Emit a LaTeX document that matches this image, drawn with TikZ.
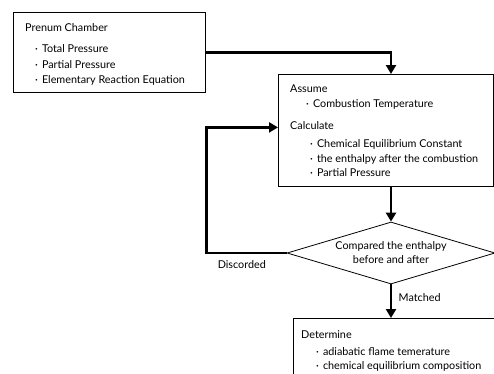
\documentclass[tikz,border=0pt]{standalone}
\usepackage{fontspec}
\setmainfont{Lato}
\usetikzlibrary{arrows.meta,shapes.geometric}

\newcommand{\itemdot}[1]{\hspace*{#1pt}\textperiodcentered\hspace{4pt}}

\tikzset{
  box/.style={draw, line width=0.8pt, anchor=north west},
  txt/.style={anchor=north west, inner sep=0pt, align=left, font=\fontsize{10.8}{15.5}\selectfont},
  flow/.style={line width=2.6pt, -{Triangle[width=10pt,length=9pt]}},
  decide/.style={draw, diamond, line width=0.8pt, aspect=3.3, inner sep=0pt,
    minimum width=208pt, minimum height=62pt, align=center, font=\fontsize{10.8}{14}\selectfont},
  lbl/.style={font=\fontsize{10.8}{12}\selectfont}
}

\begin{document}
\begin{tikzpicture}[x=1pt,y=-1pt]
\useasboundingbox (0,0) rectangle (494,373);
% boxes
\node[box, minimum width=192pt, minimum height=80pt]  (chamber)   at (13,12)  {};
\node[box, minimum width=215pt, minimum height=112pt] (assume)    at (278,74) {};
\node[decide]                                         (compare)   at (391,253) {Compared the enthalpy\\before and after};
\node[box, minimum width=215pt, minimum height=80pt]  (determine) at (293,318) {};
% box texts
\node[txt] (chamber-text) at ([shift={(12,11)}]chamber.north west)
  {Prenum Chamber\\[6pt]
   \itemdot{10}Total Pressure\\
   \itemdot{10}Partial Pressure\\
   \itemdot{10}Elementary Reaction Equation};
\node[txt, font=\fontsize{10.8}{14.5}\selectfont] (assume-text) at ([shift={(12,11)}]assume.north west)
  {Assume\\
   \itemdot{16}Combustion Temperature\\[8pt]
   Calculate\\[3.5pt]
   \itemdot{20}Chemical Equilibrium Constant\\
   \itemdot{20}the enthalpy after the combustion\\
   \itemdot{20}Partial Pressure};
\node[txt, font=\fontsize{10.8}{13.5}\selectfont] (determine-text) at ([shift={(8,12)}]determine.north west)
  {Determine\\[4pt]
   \itemdot{15}adiabatic flame temerature\\
   \itemdot{15}chemical equilibrium composition};
% flow
\draw[flow] (chamber.east) -| (assume.north -| compare.north);
\draw[flow] (assume.south -| compare.north) -- (compare.north);
\draw[flow] (compare.south) -- node[lbl, right=3pt, pos=0.4] (matched) {Matched} (determine.north -| compare.south);
\draw[flow] (compare.west) -- node[lbl, below=3pt, pos=0.56] (discorded) {Discorded} ++(-80,0)
  |- ([yshift=3pt]assume.west);
\end{tikzpicture}
\end{document}
